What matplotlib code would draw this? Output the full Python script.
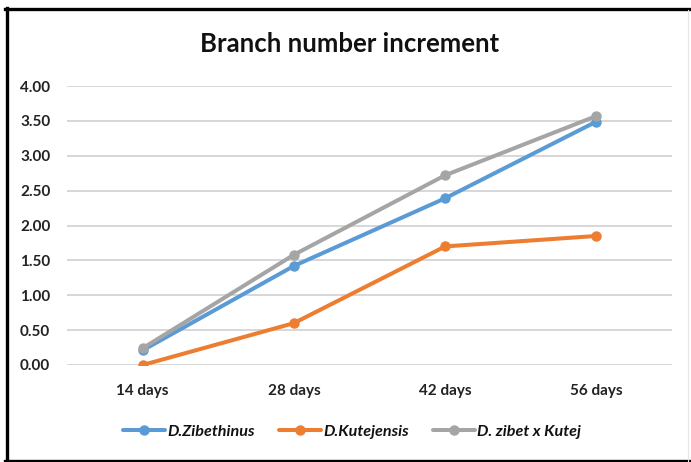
import matplotlib
matplotlib.use("Agg")
import matplotlib.pyplot as plt
from matplotlib.lines import Line2D

# data
days = ["14 days", "28 days", "42 days", "56 days"]
zibethinus = [0.21, 1.42, 2.39, 3.49]
kutejensis = [0.00, 0.60, 1.70, 1.85]
hybrid = [0.24, 1.58, 2.72, 3.57]
series_names = ["D.Zibethinus", "D.Kutejensis", "D. zibet x Kutej"]
yticks = [0.0, 0.5, 1.0, 1.5, 2.0, 2.5, 3.0, 3.5, 4.0]

colors = ["#5B9BD5", "#ED7D31", "#A5A5A5"]
W, H = 691, 462

plt.rcParams['font.family'] = ['Lato', 'DejaVu Sans']

fig = plt.figure(figsize=(W / 100, H / 100), dpi=100)
ax = fig.add_axes([67 / W, 1 - 365 / H, (672 - 67) / W, (365 - 86) / H])

x = [i + 0.5 for i in range(len(days))]
for vals, c, name in zip([zibethinus, kutejensis, hybrid], colors, series_names):
    ax.plot(x, vals, '-o', color=c, lw=2.9, ms=6.5, label=name,
            solid_capstyle='round')

ax.set_xlim(0, len(days))
ax.set_ylim(0, 4)
ax.set_yticks(yticks)
ax.set_yticklabels(["%.2f" % v for v in yticks])
ax.set_xticks(x)
ax.set_xticklabels(days)
ax.tick_params(axis='both', length=0, labelsize=11, colors='#222222')
ax.tick_params(axis='y', pad=12)
ax.tick_params(axis='x', pad=14)
for lab in ax.get_xticklabels() + ax.get_yticklabels():
    lab.set_fontweight('bold')
ax.yaxis.grid(True, color='#d4d4d4', lw=1.3)
ax.set_axisbelow(True)
for s in ax.spines.values():
    s.set_visible(False)

fig.text(350 / W, 1 - 44 / H, "Branch number increment", ha='center',
         va='center', fontsize=18.5, fontweight='bold', color='#111111')

leg = fig.legend(loc='center', bbox_to_anchor=(352 / W, 1 - 432 / H), ncol=3,
                 frameon=False, fontsize=11.6, handlelength=2.6,
                 handletextpad=0.15, columnspacing=1.5)
for t in leg.get_texts():
    t.set_fontweight('bold')
    t.set_fontstyle('italic')
    t.set_color('#111111')

# outer frame like the screenshot
fig.add_artist(Line2D([5 / W, 1], [1 - 9 / H, 1 - 9 / H], color='black', lw=2.4,
                      transform=fig.transFigure))
fig.add_artist(Line2D([6.5 / W, 6.5 / W], [0, 1 - 8 / H], color='black', lw=2.4,
                      transform=fig.transFigure))
fig.add_artist(Line2D([5 / W, 1], [1 / H, 1 / H], color='black', lw=2.4,
                      transform=fig.transFigure))
fig.add_artist(Line2D([688 / W, 688 / W], [0, 1 - 10 / H], color='#e6e6e6', lw=0.8,
                      transform=fig.transFigure))

fig.savefig("out.png", dpi=100)
